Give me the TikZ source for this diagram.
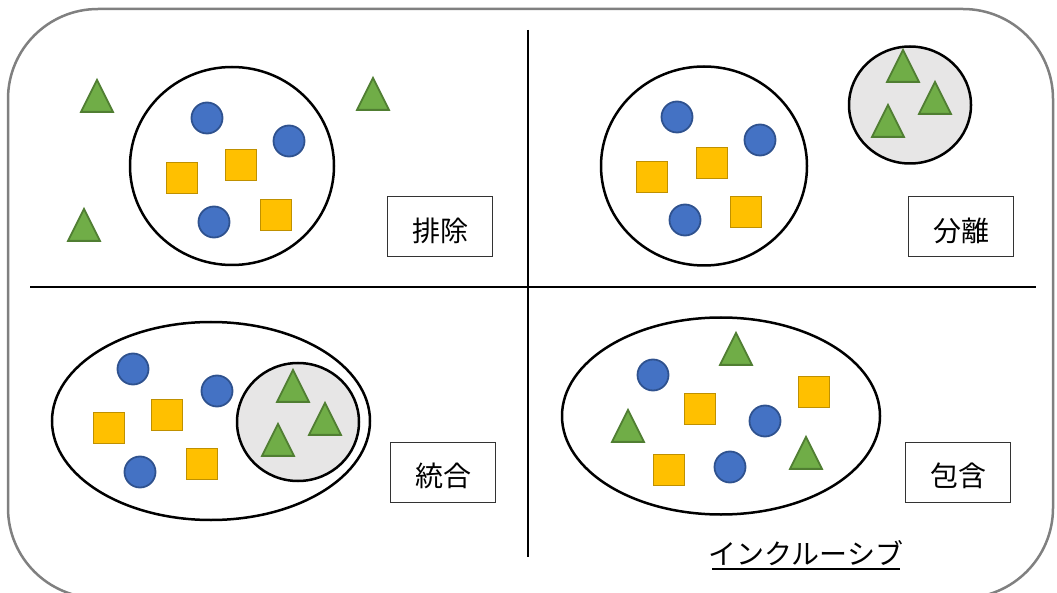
\documentclass[tikz,border=0pt]{standalone}
\usepackage{fontspec}
\setmainfont{Noto Sans CJK JP}
\usetikzlibrary{shapes.geometric}

\definecolor{dotfill}{HTML}{4472C4}
\definecolor{dotedge}{HTML}{2F528F}
\definecolor{sqfill}{HTML}{FFC000}
\definecolor{sqedge}{HTML}{BF9000}
\definecolor{trifill}{HTML}{70AD47}
\definecolor{triedge}{HTML}{507E32}
\definecolor{subfill}{HTML}{E7E6E6}

\begin{document}
\begin{tikzpicture}[
		x=1pt, y=-1pt,
		dot/.style={circle, draw=dotedge, fill=dotfill, line width=1.8pt, minimum size=31pt, inner sep=0pt},
		sq/.style={rectangle, draw=sqedge, fill=sqfill, line width=1.8pt, minimum size=31pt, inner sep=0pt},
		tri/.style={isosceles triangle, isosceles triangle stretches, shape border rotate=90, draw=triedge, fill=trifill, line width=1.8pt, minimum width=32pt, minimum height=32pt, inner sep=0pt},
		group/.style={ellipse, draw, line width=2.5pt, inner sep=0pt},
		subgroup/.style={group, fill=subfill},
		tag/.style={draw=black!80, line width=1pt, minimum width=105pt, minimum height=60pt, inner sep=0pt, text height=30pt, text depth=1pt, font=\fontsize{28}{32}\selectfont},
	]
		\useasboundingbox (0,0) rectangle (1057,593);
		\draw[gray, line width=2.5pt, rounded corners=90pt] (8,9) rectangle (1053,598);
		\draw[line width=1.2pt] (528,30) -- (528,557);
		\draw[line width=1.2pt] (30,287) -- (1036,287);

		% exclusion
		\node[group, minimum width=204pt, minimum height=198pt] (excl) at (232,166) {};
		\node[dot] (e1) at (207,118) {};
		\node[dot] (e2) at (289,141) {};
		\node[dot] (e3) at (214,222) {};
		\node[sq] (e4) at (182,178) {};
		\node[sq] (e5) at (241,165) {};
		\node[sq] (e6) at (276,215) {};
		\node[tri] (e7) at (97,102) {};
		\node[tri] (e8) at (373,100) {};
		\node[tri] (e9) at (84,231) {};
		\node[tag] (excltag) at (440,227) {排除};

		% segregation
		\node[group, minimum width=206pt, minimum height=199pt] (segr) at (704,166) {};
		\node[dot] (s1) at (677,117) {};
		\node[dot] (s2) at (760,140) {};
		\node[dot] (s3) at (685,220) {};
		\node[sq] (s4) at (652,177) {};
		\node[sq] (s5) at (712,163) {};
		\node[sq] (s6) at (746,212) {};
		\node[subgroup, minimum width=122pt, minimum height=117pt] (segrsub) at (910,105) {};
		\node[tri] (s7) at (903,72) {};
		\node[tri] (s8) at (935,104) {};
		\node[tri] (s9) at (888,127) {};
		\node[tag] (segrtag) at (961,227) {分離};

		% integration
		\node[group, minimum width=318pt, minimum height=198pt] (intg) at (211,421) {};
		\node[subgroup, minimum width=122pt, minimum height=118pt] (intgsub) at (298,422) {};
		\node[dot] (i1) at (133,369) {};
		\node[dot] (i2) at (217,391) {};
		\node[dot] (i3) at (140,472) {};
		\node[sq] (i4) at (109,428) {};
		\node[sq] (i5) at (167,415) {};
		\node[sq] (i6) at (202,464) {};
		\node[tri] (i7) at (293,392) {};
		\node[tri] (i8) at (325,425) {};
		\node[tri] (i9) at (278,446) {};
		\node[tag] (intgtag) at (443,472) {統合};

		% inclusion
		\node[group, minimum width=318pt, minimum height=197pt] (incl) at (721,416) {};
		\node[dot] (c1) at (653,375) {};
		\node[dot] (c2) at (765,421) {};
		\node[dot] (c3) at (730,467) {};
		\node[sq] (c4) at (700,409) {};
		\node[sq] (c5) at (814,392) {};
		\node[sq] (c6) at (669,470) {};
		\node[tri] (c7) at (736,355) {};
		\node[tri] (c8) at (628,432) {};
		\node[tri] (c9) at (806,459) {};
		\node[tag] (incltag) at (958,472) {包含};

		\node[inner sep=0pt, font=\fontsize{28}{32}\selectfont] (inclname) at (806,553) {インクルーシブ};
		\draw[line width=2pt] (712,569) -- (900,569);
	\end{tikzpicture}
\end{document}
